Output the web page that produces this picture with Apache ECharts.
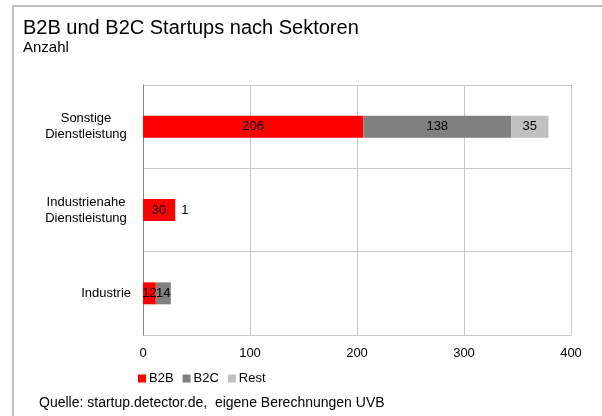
<!DOCTYPE html>
<html>
<head>
<meta charset="utf-8">
<script src="https://cdn.jsdelivr.net/npm/echarts@6/dist/echarts.min.js"></script>
<style>
  html, body { margin: 0; padding: 0; background: #fff; }
  #chartBox { width: 602px; height: 416px; }
</style>
</head>
<body>
<div id="chartBox"></div>
<script>
const categories = ["Sonstige\nDienstleistung", "Industrienahe\nDienstleistung", "Industrie"];
const b2b = [206, 30, 12];
const b2c = [138, 0, 14];
const rest = [35, 1, 0];
const xTicks = [0, 100, 200, 300, 400];

const font = "Liberation Sans, Arial, sans-serif";

function hideZero(p) {
  return p.value ? String(p.value) : "";
}

function barSeries(name, values, color) {
  return {
    name: name,
    type: "bar",
    stack: "total",
    barWidth: 22,
    itemStyle: { color: color },
    label: {
      show: true,
      position: "inside",
      color: "#000",
      fontSize: 13,
      fontFamily: font,
      formatter: hideZero
    },
    data: values.map(function (v) {
      // very small segments get their label outside, as in the original
      if (v > 0 && v < 5) {
        return { value: v, label: { position: "right", distance: 5 } };
      }
      return v;
    })
  };
}

let chart = echarts.init(document.getElementById("chartBox"));
let option = {
  animation: false,
  textStyle: { fontFamily: font },
  title: {
    text: "B2B und B2C Startups nach Sektoren",
    subtext: "Anzahl",
    left: 18,
    top: 13,
    itemGap: 2,
    textStyle: { fontSize: 20, fontWeight: "normal", color: "#000", fontFamily: font },
    subtextStyle: { fontSize: 15, color: "#000", fontFamily: font }
  },
  legend: {
    left: 133,
    top: 367,
    itemWidth: 8,
    itemHeight: 8,
    itemGap: 9,
    icon: "rect",
    textStyle: { fontSize: 13, color: "#000", fontFamily: font, padding: [0, 0, 0, -2] },
    data: ["B2B", "B2C", "Rest"]
  },
  grid: { left: 143, right: 31, top: 85, bottom: 81 },
  xAxis: {
    type: "value",
    min: xTicks[0],
    max: xTicks[xTicks.length - 1],
    interval: 100,
    axisLine: { show: false },
    axisTick: { show: false },
    axisLabel: { color: "#000", fontSize: 13, fontFamily: font, margin: 12 },
    splitLine: { lineStyle: { color: "#c8c8c8", width: 1 } }
  },
  yAxis: {
    type: "category",
    inverse: true,
    data: categories,
    axisLine: { lineStyle: { color: "#868686", width: 1 } },
    axisTick: { show: false },
    splitLine: { show: true, lineStyle: { color: "#c8c8c8", width: 1 } },
    axisLabel: {
      color: "#000",
      fontSize: 13,
      fontFamily: font,
      margin: 12,
      lineHeight: 16,
      formatter: function (v) {
        if (v.indexOf("\n") < 0) return v;
        return v.split("\n").map(function (s) { return "{c|" + s + "}"; }).join("\n");
      },
      rich: {
        c: { width: 90, align: "center", fontSize: 13, lineHeight: 16, color: "#000", fontFamily: font }
      }
    }
  },
  graphic: [
    {
      type: "rect",
      shape: { x: 13, y: 6, width: 700, height: 500 },
      style: { fill: null, stroke: "#c0c0c0", lineWidth: 2 },
      silent: true
    },
    {
      type: "text",
      left: 39,
      top: 396,
      style: {
        text: "Quelle: startup.detector.de,  eigene Berechnungen UVB",
        fill: "#000",
        font: "14px " + font
      }
    }
  ],
  series: [
    barSeries("B2B", b2b, "#ff0000"),
    barSeries("B2C", b2c, "#808080"),
    barSeries("Rest", rest, "#c0c0c0")
  ]
};
chart.setOption(option);
</script>
</body>
</html>
